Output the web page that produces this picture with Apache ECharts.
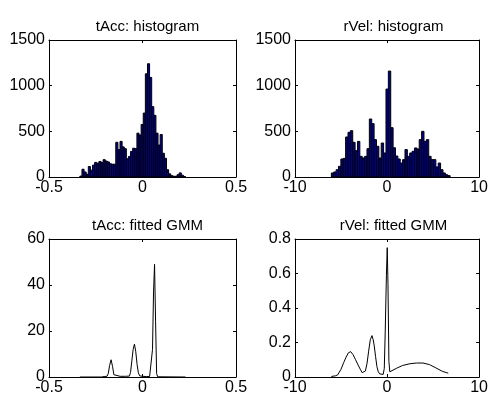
<!DOCTYPE html>
<html><head><meta charset="utf-8">
<script src="https://cdn.jsdelivr.net/npm/echarts@6/dist/echarts.min.js"></script>
<style>html,body{margin:0;padding:0;background:#fff}#c{width:491px;height:396px}</style>
</head><body><div id="c"></div>
<script>
// ---- data ----
const titles = ['tAcc: histogram', 'rVel: histogram', 'tAcc: fitted GMM', 'rVel: fitted GMM'];

// tAcc histogram: 50 bins between these edges
const tAccRange = [-0.335, 0.23];
const tAccCounts = [10, 85, 55, 30, 115, 75, 130, 160, 150, 170,
                    160, 190, 175, 165, 145, 140, 140, 380, 300, 390,
                    330, 310, 200, 225, 280, 315, 310, 480, 460, 575,
                    700, 1130, 1240, 1090, 770, 675, 480, 350, 465, 260,
                    205, 80, 35, 15, 8, 8, 25, 45, 20, 5];

// rVel histogram: 50 bins between these edges
const rVelRange = [-6.05, 6.85];
const rVelCounts = [44, 55, 80, 117, 197, 204, 438, 489, 507, 380,
                    288, 390, 226, 208, 226, 310, 635, 584, 409, 336,
                    208, 372, 263, 963, 1160, 540, 320, 230, 197, 153,
                    190, 300, 226, 263, 281, 318, 307, 409, 500, 390,
                    409, 226, 190, 190, 110, 153, 80, 44, 25, 15];

// fitted GMM curves, [x, density]
const tAccGmm = [[-0.335, 0], [-0.22, 0], [-0.205, 0.2], [-0.19, 0.3], [-0.183, 1.5], [-0.176, 5],
  [-0.168, 7.5], [-0.160, 4.5], [-0.153, 1], [-0.146, 0.3], [-0.12, 0.3], [-0.09, 0.3],
  [-0.07, 0.4], [-0.064, 2], [-0.057, 7], [-0.05, 12], [-0.043, 14.3], [-0.036, 11],
  [-0.029, 5.5], [-0.022, 1.8], [-0.015, 0.5], [0.0, 0.3], [0.02, 0.2], [0.038, 0.2],
  [0.0485, 0.8], [0.0535, 12], [0.059, 37], [0.0645, 49], [0.07, 24], [0.0755, 1.5],
  [0.081, 0.1], [0.23, 0]];

const rVelGmm = [[-6.05, 0.003], [-5.6, 0.007], [-5.37, 0.012], [-5.0, 0.045], [-4.7, 0.085],
  [-4.45, 0.115], [-4.2, 0.14], [-3.95, 0.147], [-3.7, 0.13], [-3.42, 0.1], [-3.15, 0.07],
  [-2.88, 0.042], [-2.7, 0.025], [-2.53, 0.018], [-2.35, 0.035], [-2.17, 0.08], [-2.0, 0.15],
  [-1.82, 0.216], [-1.64, 0.24], [-1.5, 0.215], [-1.39, 0.18], [-1.25, 0.12], [-1.1, 0.06],
  [-0.95, 0.03], [-0.8, 0.018], [-0.6, 0.012], [-0.42, 0.015], [-0.3, 0.05], [-0.2, 0.26],
  [-0.07, 0.59], [0.02, 0.75], [0.1, 0.54], [0.2, 0.09], [0.3, 0.03], [0.5, 0.033],
  [1.0, 0.05], [1.7, 0.067], [2.5, 0.077], [3.2, 0.081], [3.9, 0.081], [4.6, 0.072],
  [5.3, 0.053], [6.0, 0.033], [6.65, 0.022]];

// axis ranges / tick steps
const xRanges = [[-0.5, 0.5, 0.5], [-10, 10, 10], [-0.5, 0.5, 0.5], [-10, 10, 10]];
const yRanges = [[0, 1500, 500], [0, 1500, 500], [0, 60, 20], [0, 0.8, 0.2]];

// ---- layout ----
const grids = [
  {left: 49, top: 40, width: 187, height: 137},
  {left: 295, top: 40, width: 187, height: 137},
  {left: 49, top: 239, width: 187, height: 138},
  {left: 295, top: 239, width: 187, height: 138}
];
const FONT = '"Liberation Sans", Arial, Helvetica, sans-serif';
const fmt = v => String(Math.round(v * 1000) / 1000);

function binsOf(counts, range) {
  const w = (range[1] - range[0]) / counts.length;
  return counts.map((c, i) => [range[0] + i * w, range[0] + (i + 1) * w, c]);
}

const xAxis = [], yAxis = [];
grids.forEach((g, i) => {
  const [xmin, xmax, xint] = xRanges[i];
  const [ymin, ymax, yint] = yRanges[i];
  const base = {
    type: 'value', gridIndex: i, splitLine: {show: false},
    axisLine: {show: true, onZero: false, lineStyle: {color: '#000', width: 1}},
    axisTick: {show: true, inside: true, length: 3, lineStyle: {color: '#000'}}
  };
  xAxis.push(Object.assign({}, base, {position: 'bottom', min: xmin, max: xmax, interval: xint,
    axisLabel: {show: true, color: '#000', fontSize: 16, fontFamily: FONT, margin: 3, formatter: fmt}}));
  xAxis.push(Object.assign({}, base, {position: 'top', min: xmin, max: xmax, interval: xint,
    axisLabel: {show: false}}));
  yAxis.push(Object.assign({}, base, {position: 'left', min: ymin, max: ymax, interval: yint,
    axisLabel: {show: true, color: '#000', fontSize: 16, fontFamily: FONT, margin: 4, formatter: fmt}}));
  yAxis.push(Object.assign({}, base, {position: 'right', min: ymin, max: ymax, interval: yint,
    axisLabel: {show: false}}));
});

function renderBar(params, api) {
  const p0 = api.coord([api.value(0), api.value(2)]);
  const p1 = api.coord([api.value(1), 0]);
  return {
    type: 'rect',
    shape: {x: p0[0], y: p0[1], width: p1[0] - p0[0], height: p1[1] - p0[1]},
    style: {fill: '#00008f', stroke: '#000', lineWidth: 1}
  };
}

const series = [
  {type: 'custom', xAxisIndex: 0, yAxisIndex: 0, renderItem: renderBar,
   encode: {x: [0, 1], y: 2}, data: binsOf(tAccCounts, tAccRange)},
  {type: 'custom', xAxisIndex: 2, yAxisIndex: 2, renderItem: renderBar,
   encode: {x: [0, 1], y: 2}, data: binsOf(rVelCounts, rVelRange)},
  {type: 'line', xAxisIndex: 4, yAxisIndex: 4, data: tAccGmm, showSymbol: false,
   lineStyle: {color: '#000', width: 1}},
  {type: 'line', xAxisIndex: 6, yAxisIndex: 6, data: rVelGmm, showSymbol: false,
   lineStyle: {color: '#000', width: 1}}
];

const title = grids.map((g, i) => ({
  text: titles[i], left: g.left + g.width / 2, top: i < 2 ? 14 : 213, textAlign: 'center',
  textStyle: {color: '#000', fontSize: 15, fontWeight: 'normal', fontFamily: FONT}
}));

const chart = echarts.init(document.getElementById('c'), null, {renderer: 'canvas'});
chart.setOption({
  animation: false, backgroundColor: '#fff',
  title, grid: grids, xAxis, yAxis, series
});
</script>
</body></html>
